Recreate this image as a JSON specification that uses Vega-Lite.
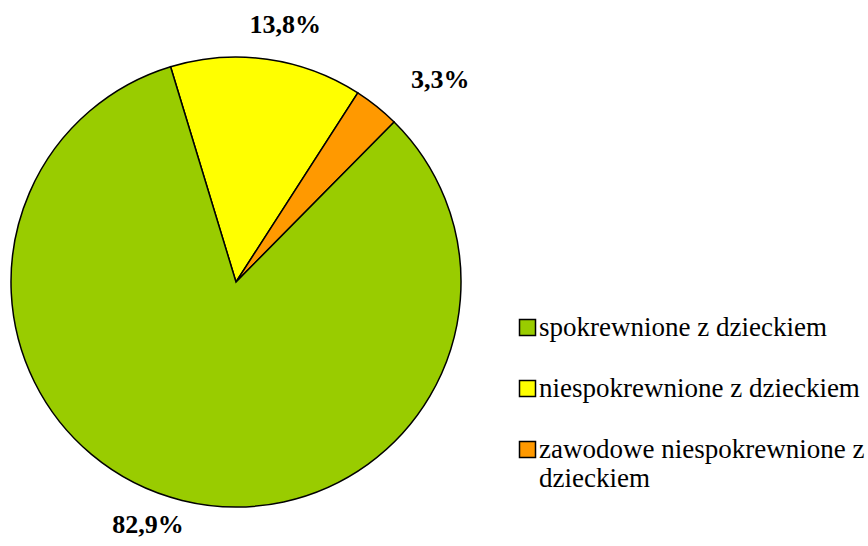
{
  "$schema": "https://vega.github.io/schema/vega-lite/v6.json",
  "width": 472,
  "height": 564,
  "autosize": {"type": "none"},
  "padding": {"top": 0, "left": 0, "right": 396, "bottom": 0},
  "background": "white",
  "config": {"view": {"stroke": null}, "font": "Liberation Serif"},
  "data": {
    "values": [
      {"category": "niespokrewnione z dzieckiem", "value": 13.8, "label": "13,8%", "ord": 1},
      {"category": "zawodowe niespokrewnione z dzieckiem", "value": 3.3, "label": "3,3%", "ord": 2},
      {"category": "spokrewnione z dzieckiem", "value": 82.9, "label": "82,9%", "ord": 3}
    ]
  },
  "encoding": {
    "theta": {"field": "value", "type": "quantitative", "stack": true, "scale": {"range": [-0.295, 5.988]}},
    "order": {"field": "ord", "type": "quantitative"}
  },
  "layer": [
    {
      "mark": {"type": "arc", "outerRadius": 225, "stroke": "black", "strokeWidth": 1.5},
      "encoding": {
        "color": {
          "field": "category",
          "type": "nominal",
          "scale": {
            "domain": ["spokrewnione z dzieckiem", "niespokrewnione z dzieckiem", "zawodowe niespokrewnione z dzieckiem"],
            "range": ["#99CC00", "#FFFF00", "#FF9900"]
          },
          "legend": {
            "title": null,
            "orient": "none",
            "legendX": 514,
            "legendY": 314,
            "symbolType": "square",
            "symbolSize": 256,
            "symbolStrokeColor": "black",
            "symbolStrokeWidth": 1.5,
            "symbolOpacity": 1,
            "labelFont": "Liberation Serif",
            "labelFontSize": 27,
            "labelColor": "black",
            "labelLimit": 400,
            "labelOffset": -2,
            "rowPadding": 33,
            "labelExpr": "datum.label == 'zawodowe niespokrewnione z dzieckiem' ? ['zawodowe niespokrewnione z', 'dzieckiem'] : datum.label"
          }
        }
      }
    },
    {
      "mark": {"type": "text", "radius": 262, "dx": 13, "dy": 2, "font": "Liberation Serif", "fontWeight": "bold", "fontSize": 26, "color": "black"},
      "encoding": {
        "text": {"condition": {"test": "datum.ord == 1", "field": "label"}, "value": ""}
      }
    },
    {
      "mark": {"type": "text", "radius": 285, "dx": 26, "dy": 20, "font": "Liberation Serif", "fontWeight": "bold", "fontSize": 26, "color": "black"},
      "encoding": {
        "text": {"condition": {"test": "datum.ord == 2", "field": "label"}, "value": ""}
      }
    },
    {
      "mark": {"type": "text", "radius": 259, "dx": -26, "dy": -8, "font": "Liberation Serif", "fontWeight": "bold", "fontSize": 26, "color": "black"},
      "encoding": {
        "text": {"condition": {"test": "datum.ord == 3", "field": "label"}, "value": ""}
      }
    }
  ]
}
